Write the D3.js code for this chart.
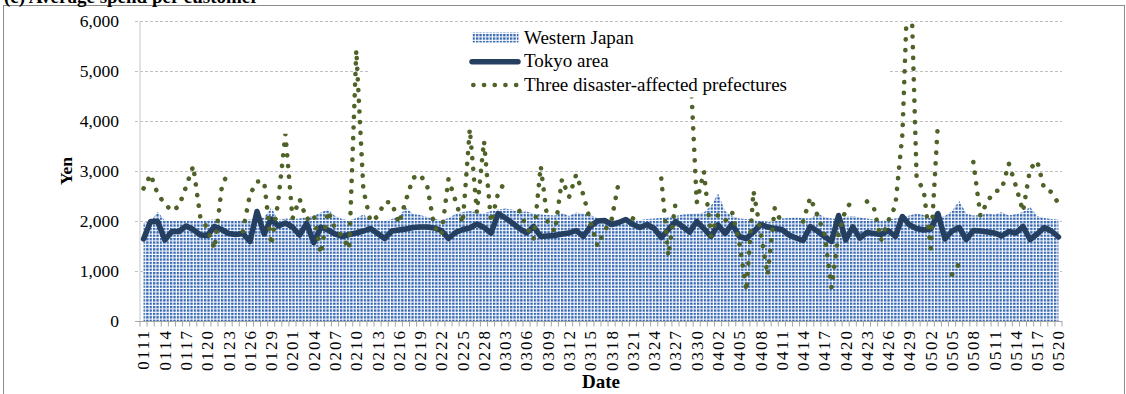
<!DOCTYPE html>
<html>
<head>
<meta charset="utf-8">
<script src="https://cdn.jsdelivr.net/npm/d3@7/dist/d3.min.js"></script>
<style>
  body { margin: 0; background: #fff; }
  svg { display: block; }
  svg text { font-family: "Liberation Serif", "Times New Roman", "DejaVu Serif", serif !important; fill: #000; }
</style>
</head>
<body>
<svg id="chart" width="1126" height="394"></svg>
<script>
// daily dates, 2011-01-11 .. 2011-05-20 (MMDD)
const dates = [
  "0111","0112","0113","0114","0115","0116","0117","0118","0119","0120","0121","0122","0123","0124","0125","0126","0127","0128","0129","0130","0131",
  "0201","0202","0203","0204","0205","0206","0207","0208","0209","0210","0211","0212","0213","0214","0215","0216","0217","0218","0219","0220","0221","0222","0223","0224","0225","0226","0227","0228",
  "0301","0302","0303","0304","0305","0306","0307","0308","0309","0310","0311","0312","0313","0314","0315","0316","0317","0318","0319","0320","0321","0322","0323","0324","0325","0326","0327","0328","0329","0330","0331",
  "0401","0402","0403","0404","0405","0406","0407","0408","0409","0410","0411","0412","0413","0414","0415","0416","0417","0418","0419","0420","0421","0422","0423","0424","0425","0426","0427","0428","0429","0430",
  "0501","0502","0503","0504","0505","0506","0507","0508","0509","0510","0511","0512","0513","0514","0515","0516","0517","0518","0519","0520"
];

// Western Japan (area)
const westernJapan = [
  1960,2000,2180,2010,2000,2010,2000,2010,2000,2020,2030,2020,2010,2000,2010,2030,2040,2070,2270,2020,2050,
  2040,2050,2080,2100,2170,2230,2100,2040,2010,2060,2130,2020,2000,2000,2040,2090,2270,2140,2120,2080,2050,2010,2060,2140,2180,2200,2170,2150,
  2200,2230,2250,2230,2180,2190,2150,2130,2120,2110,2160,2100,2170,2150,2120,2060,2000,2010,2020,2030,2030,2020,2040,2050,2060,2080,2100,2130,2140,2150,2170,
  2300,2550,2200,2100,2050,2040,2030,2010,1980,1990,2050,2060,2070,2060,2050,2150,2080,2050,2040,2080,2100,2070,2050,2030,2010,2030,2050,2080,2110,2150,
  2120,2050,2060,2100,2200,2400,2150,2110,2120,2150,2130,2180,2110,2140,2180,2280,2100,2060,2040,2030
];

// Tokyo area (thick line)
const tokyoArea = [
  1640,1990,1990,1620,1790,1790,1900,1830,1720,1710,1890,1830,1750,1730,1750,1590,2190,1740,2040,1900,1960,
  1880,1720,1950,1570,1880,1820,1740,1690,1730,1760,1800,1850,1750,1650,1800,1820,1840,1870,1880,1880,1860,1810,1650,1770,1830,1860,1940,1870,
  1760,2150,2060,1960,1850,1760,1890,1690,1700,1710,1740,1760,1810,1690,1890,2000,2010,1930,1970,2030,1930,1870,1930,1850,1670,1830,1990,1890,1780,1990,1850,
  1690,1920,1750,1940,1690,1650,1780,1930,1880,1850,1830,1720,1660,1610,1890,1800,1690,1590,2110,1620,1880,1660,1770,1750,1730,1810,1690,2090,1920,1850,
  1820,1840,2150,1640,1800,1870,1630,1810,1800,1780,1760,1700,1790,1760,1890,1630,1740,1870,1800,1680
];

// Three disaster-affected prefectures (dotted line, null = no data)
const threePrefectures = [
  2650,2930,2540,2340,2200,2300,2690,3100,2080,1850,1440,2640,3040,null,1790,2530,2790,2790,1520,2400,3740,
  2050,2440,2030,2130,1340,2200,1850,1700,1440,5420,2620,1990,2090,2380,2370,1950,2420,2860,2930,2700,1880,1720,2840,2400,1950,3840,2170,3600,
  1970,2560,2790,null,2200,1880,1640,3100,1960,1790,2840,2480,2930,2530,1990,1500,1800,2030,2780,null,2050,1980,null,null,2850,1300,2350,null,5350,2370,2990,
  1700,2120,2000,2170,1570,600,2600,1780,920,2260,1950,null,null,1990,2470,2120,1750,670,1750,2230,2420,null,2390,2250,1620,2000,2300,3740,7800,2860,
  2610,1450,3970,null,930,1150,null,3180,2100,2400,2590,2630,3150,2700,2190,3040,3200,2640,2580,2350
];

const yTicks = [0, 1000, 2000, 3000, 4000, 5000, 6000];
const legendLabels = ["Western Japan", "Tokyo area", "Three disaster-affected prefectures"];

const svg = d3.select("#chart");
const plotL = 140, plotR = 1062, plotT = 21, plotB = 321;

const x = d3.scaleBand().domain(dates).range([plotL, plotR]);
const cx = d => x(d) + x.bandwidth() / 2;
const y = d3.scaleLinear().domain([0, 6000]).range([plotB, plotT]);

const defs = svg.append("defs");
const pat = defs.append("pattern")
    .attr("id", "dots")
    .attr("patternUnits", "userSpaceOnUse")
    .attr("width", 3.4).attr("height", 3.4);
pat.append("rect").attr("width", 3.4).attr("height", 3.4).attr("fill", "#fff");
pat.append("rect").attr("width", 2.3).attr("height", 2.3).attr("fill", "#3365b2");

defs.append("clipPath").attr("id", "plotclip")
  .append("rect").attr("x", plotL).attr("y", plotT).attr("width", plotR - plotL).attr("height", plotB - plotT);

// frame + title (cut off at the top edge, as in the source image)
svg.append("rect")
    .attr("x", 3.5).attr("y", 5.5).attr("width", 1121).attr("height", 400)
    .attr("fill", "none").attr("stroke", "#8c8c8c");
svg.append("text")
    .attr("x", 4).attr("y", 2.5)
    .attr("font-size", 19).attr("font-weight", "bold")
    .text("(c) Average spend per customer");

// gridlines
svg.append("g").selectAll("line")
  .data(yTicks.filter(d => d > 0))
  .enter().append("line")
    .attr("x1", plotL - 5).attr("x2", plotR)
    .attr("y1", d => y(d) + 0.5).attr("y2", d => y(d) + 0.5)
    .attr("stroke", "#bfbfbf").attr("stroke-dasharray", "3,2");

// y axis labels
const yAxis = svg.append("g")
    .attr("transform", "translate(" + plotL + ",0)")
    .call(d3.axisLeft(y).tickValues(yTicks).tickSize(0).tickPadding(21).tickFormat(d3.format(",")));
yAxis.select(".domain").remove();
yAxis.selectAll("text").attr("font-size", 17.5);

// Western Japan area
svg.append("path")
    .datum(westernJapan)
    .attr("fill", "url(#dots)")
    .attr("d", d3.area()
      .x((d, i) => cx(dates[i]))
      .y0(y(0))
      .y1(d => y(d)));

// y axis line
svg.append("line")
    .attr("x1", plotL).attr("x2", plotL).attr("y1", plotT).attr("y2", plotB)
    .attr("stroke", "#d9d9d9").attr("stroke-width", 1.5);

// Tokyo area line
svg.append("path")
    .datum(tokyoArea)
    .attr("fill", "none")
    .attr("stroke", "#243f60")
    .attr("stroke-width", 5.5)
    .attr("stroke-linejoin", "round")
    .attr("stroke-linecap", "round")
    .attr("d", d3.line().x((d, i) => cx(dates[i])).y(d => y(d)));

// Three disaster-affected prefectures
svg.append("path")
    .datum(threePrefectures)
    .attr("clip-path", "url(#plotclip)")
    .attr("fill", "none")
    .attr("stroke", "#4f6228")
    .attr("stroke-width", 4.6)
    .attr("stroke-linecap", "round")
    .attr("stroke-dasharray", "0.1,10.6")
    .attr("d", d3.line()
      .defined(d => d != null)
      .x((d, i) => cx(dates[i]))
      .y(d => y(d)));

// x axis
const xAxisG = svg.append("g").attr("transform", "translate(0," + plotB + ")");
xAxisG.append("line")
    .attr("x1", plotL - 5).attr("x2", plotR).attr("y1", 0.5).attr("y2", 0.5)
    .attr("stroke", "#a6a6a6");
xAxisG.selectAll(".tk")
  .data(dates.map(d => x(d)).concat([plotR]))
  .enter().append("line")
    .attr("class", "tk")
    .attr("x1", d => d).attr("x2", d => d)
    .attr("y1", 0).attr("y2", 5.5)
    .attr("stroke", "#a6a6a6");

const xAxis = xAxisG.append("g")
    .call(d3.axisBottom(x).tickValues(dates.filter((d, i) => i % 3 === 0)).tickSize(0));
xAxis.select(".domain").remove();
xAxis.selectAll("text")
    .attr("font-size", 17)
    .attr("letter-spacing", 2)
    .attr("y", 0).attr("x", -8).attr("dy", "0.35em")
    .attr("transform", "rotate(-90)")
    .style("text-anchor", "end");

// axis titles
svg.append("text")
    .attr("x", (plotL + plotR) / 2).attr("y", 388)
    .attr("text-anchor", "middle")
    .attr("font-size", 19).attr("font-weight", "bold")
    .text("Date");
svg.append("text")
    .attr("transform", "translate(72," + ((plotT + plotB) / 2) + ") rotate(-90)")
    .attr("text-anchor", "middle")
    .attr("font-size", 17.5).attr("font-weight", "bold")
    .text("Yen");

// legend (white box sits over the plot)
const lg = svg.append("g");
lg.append("rect")
    .attr("x", 370).attr("y", 23).attr("width", 520).attr("height", 74.5)
    .attr("fill", "#fff");
lg.append("rect")
    .attr("x", 472.5).attr("y", 32.5).attr("width", 46).attr("height", 10)
    .attr("fill", "url(#dots)");
lg.append("line")
    .attr("x1", 472).attr("x2", 518).attr("y1", 61.7).attr("y2", 61.7)
    .attr("stroke", "#243f60").attr("stroke-width", 5.5).attr("stroke-linecap", "round");
lg.append("line")
    .attr("x1", 473.3).attr("x2", 518).attr("y1", 85).attr("y2", 85)
    .attr("stroke", "#4f6228").attr("stroke-width", 4.6)
    .attr("stroke-linecap", "round").attr("stroke-dasharray", "0.1,10.6");
lg.selectAll(".lt")
  .data(legendLabels)
  .enter().append("text")
    .attr("class", "lt")
    .attr("x", 524)
    .attr("y", (d, i) => [44.3, 67, 90.5][i])
    .attr("font-size", 19)
    .text(d => d);
</script>
</body>
</html>
